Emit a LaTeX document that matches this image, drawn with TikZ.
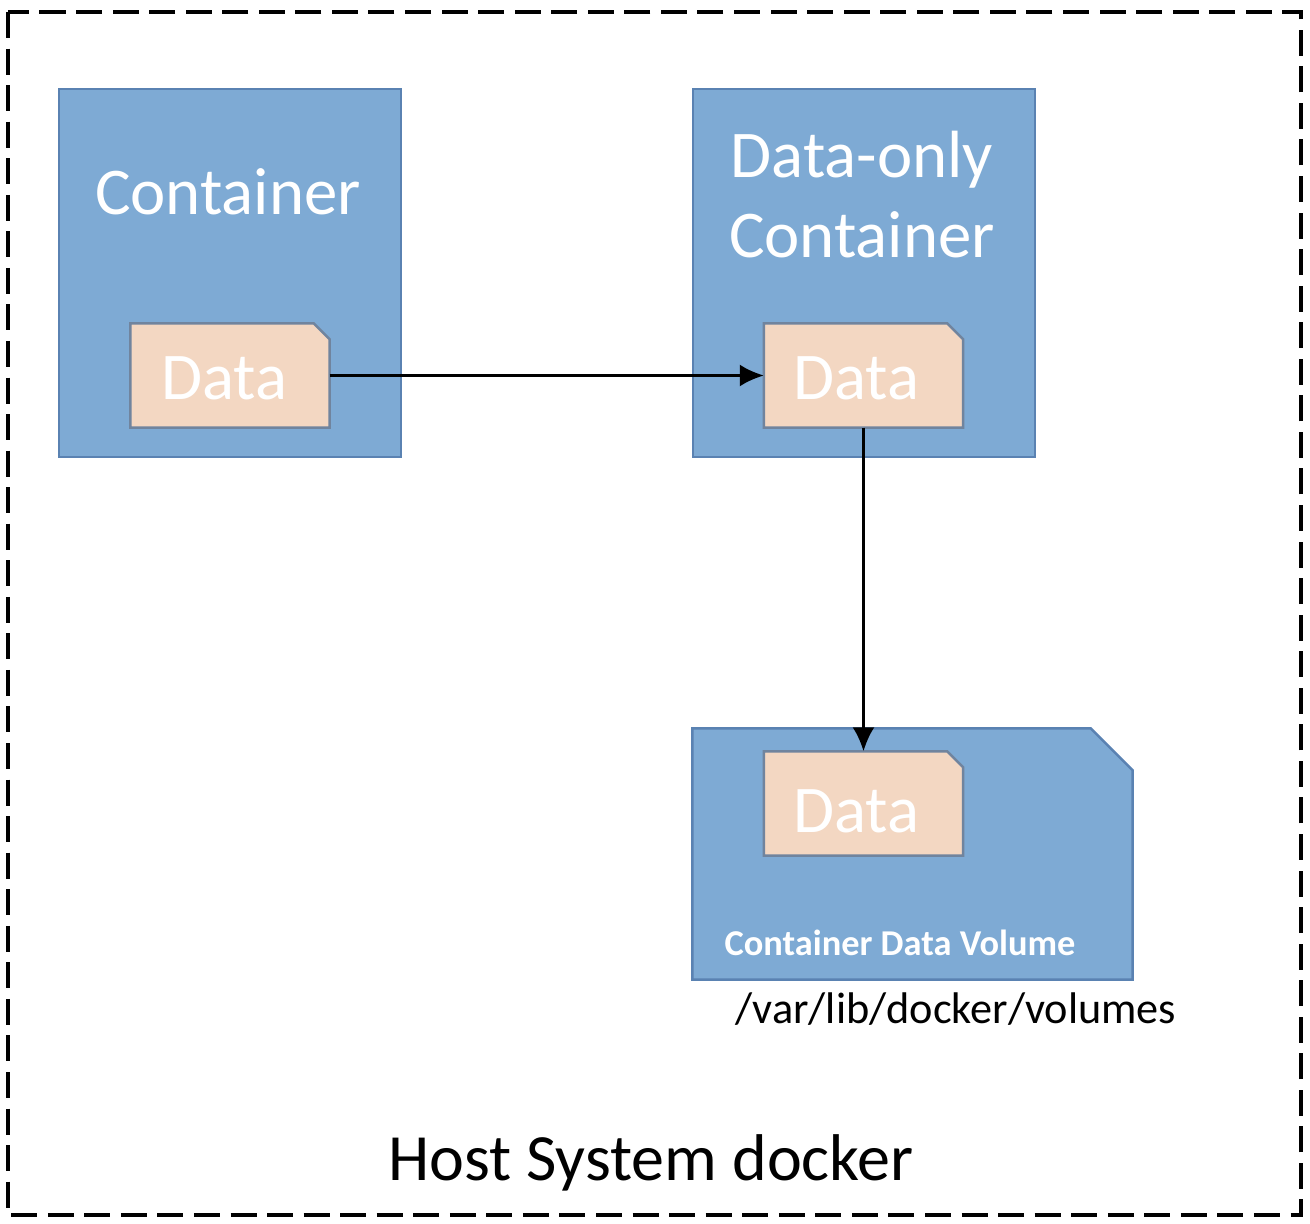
\documentclass[tikz,border=0pt]{standalone}
\usepackage{fontspec}
\setmainfont{Carlito}
\usetikzlibrary{arrows.meta}
\definecolor{boxblue}{RGB}{126,170,212}
\definecolor{boxedge}{RGB}{90,130,178}
\definecolor{datafill}{RGB}{243,215,194}
\definecolor{dataedge}{RGB}{112,132,158}
% outline of a node with its north east corner cut off
\def\chamfer[#1](#2)(#3){\draw[#1] (#2.south west) -- (#2.north west) -- ([xshift=-#3]#2.north east) -- ([yshift=-#3]#2.north east) -- (#2.south east) -- cycle;}
\tikzset{
  cbox/.style={draw=boxedge, line width=0.7pt, fill=boxblue, minimum width=3.42cm, minimum height=3.68cm, inner sep=0pt},
  databox/.style={minimum width=1.98cm, minimum height=1.03cm, inner sep=0pt},
  datashape/.style={draw=dataedge, line width=0.7pt, fill=datafill},
  whitetxt/.style={text=white, font=\fontsize{19}{22.7}\selectfont, anchor=base, inner sep=0pt},
  link/.style={line width=0.8pt, -{Latex[length=0.24cm,width=0.22cm]}}
}
\begin{document}
\begin{tikzpicture}[x=1cm,y=-1cm]
  \useasboundingbox (0,0) rectangle (13.10,12.24);
  %%%%% host %%%%%
  \draw[line width=1.1pt, dash pattern=on 7.4pt off 3pt] (0.08,0.12) rectangle (13.01,12.15);
  \node[anchor=base, inner sep=0pt, font=\fontsize{18.8}{22}\selectfont] (host) at (6.51,11.80) {Host System docker};

  %%%%% containers %%%%%
  \node[cbox] (cont) at (2.30,2.73) {};
  \node[cbox] (dcont) at (8.64,2.73) {};
  \node[whitetxt] (contlbl) at (2.28,2.15) {Container};
  \node[whitetxt] (dolbl) at (8.62,1.78) {Data-only};
  \node[whitetxt] (dolbl2) at (8.62,2.58) {Container};

  %%%%% volume %%%%%
  \node[minimum width=4.39cm, minimum height=2.50cm, inner sep=0pt] (vol) at (9.125,8.54) {};
  \chamfer[draw=boxedge, line width=0.7pt, fill=boxblue](vol)(0.42cm)
  \node[text=white, anchor=base, inner sep=0pt, font=\bfseries\fontsize{10.35}{12}\selectfont] (vollbl) at (9.00,9.55) {Container Data Volume};
  \node[anchor=base, inner sep=0pt, font=\fontsize{12.6}{15}\selectfont] (path) at (9.56,10.23) {/var/lib/docker/volumes};

  %%%%% data %%%%%
  \node[databox] (data1) at (2.30,3.755) {};
  \node[databox] (data2) at (8.635,3.755) {};
  \node[databox] (data3) at (8.635,8.035) {};
  \chamfer[datashape](data1)(0.16cm)
  \chamfer[datashape](data2)(0.16cm)
  \chamfer[datashape](data3)(0.16cm)
  \node[whitetxt] at (2.24,4.00) {Data};
  \node[whitetxt] at (8.56,4.00) {Data};
  \node[whitetxt] at (8.56,8.32) {Data};

  \draw[link] (data1) -- (data2);
  \draw[link] (data2) -- (data3);
\end{tikzpicture}
\end{document}
